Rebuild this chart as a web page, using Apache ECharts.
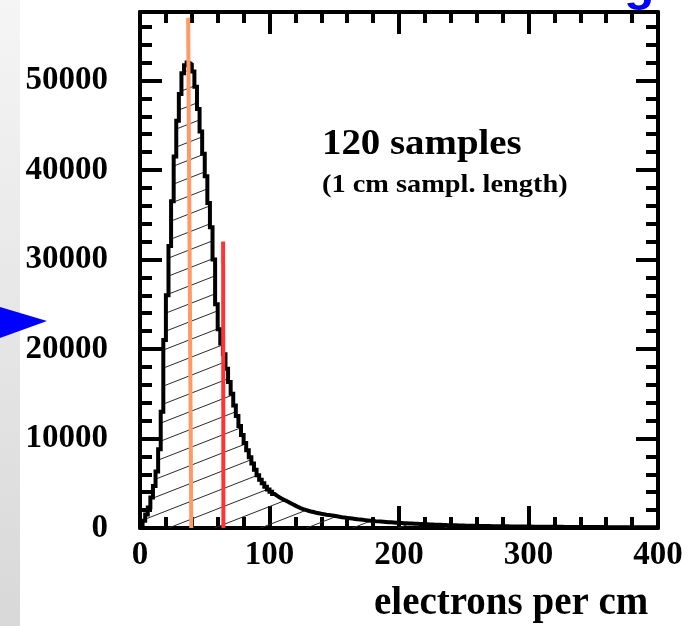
<!DOCTYPE html>
<html>
<head>
<meta charset="utf-8">
<script src="https://cdn.jsdelivr.net/npm/echarts@6/dist/echarts.min.js"></script>
<style>
  html, body { margin: 0; padding: 0; background: #ffffff; }
  #chart { width: 691px; height: 626px; }
</style>
</head>
<body>
<div id="chart"></div>
<script>
// Histogram of electrons per cm: 200 bins of width 2 from 0 to 400
const binWidth = 2;
const counts = [
  250, 800, 1500, 2300, 3400, 4700, 6300, 8800, 13000, 21000,
  26000, 31500, 36500, 41500, 45500, 48500, 50800, 51700, 52000, 51800,
  51000, 49300, 46800, 44300, 41800, 39300, 36300, 33600, 30000, 25000,
  22200, 20600, 19400, 17800, 16300, 15000, 13700, 12500, 11400, 10400,
  9500, 8700, 7900, 7200, 6500, 5900, 5400, 5000, 4600, 4300,
  4050, 3800, 3600, 3400, 3250, 3100, 2950, 2800, 2650, 2500,
  2350, 2230, 2120, 2020, 1930, 1850, 1780, 1710, 1650, 1590,
  1540, 1490, 1450, 1410, 1360, 1310, 1260, 1210, 1170, 1130,
  1090, 1050, 1010, 970, 940, 910, 880, 850, 820, 790,
  760, 740, 715, 690, 670, 650, 630, 610, 590, 570,
  555, 540, 525, 510, 495, 480, 465, 450, 435, 420,
  408, 396, 384, 372, 360, 350, 340, 330, 320, 311,
  302, 294, 286, 279, 272, 265, 258, 252, 246, 240,
  234, 228, 223, 218, 213, 208, 203, 199, 195, 191,
  187, 183, 180, 176, 173, 170, 167, 164, 161, 158,
  155, 152, 150, 147, 145, 142, 140, 138, 135, 133,
  131, 129, 127, 125, 123, 121, 119, 117, 115, 114,
  112, 110, 109, 107, 105, 104, 102, 101, 99, 98,
  97, 95, 94, 93, 91, 90, 89, 88, 87, 86,
  85, 84, 83, 82, 81, 80, 79, 78, 77, 76
];

// Axis ranges and tick spacing
const xRange = [0, 400];
const xMajorStep = 100;
const yRange = [0, 57650];
const yMajorStep = 10000;
const yMinorStep = 2000;

// Marker lines: most probable value and mean
const peakMarker = [[37.2, 57000], [39.6, 0]];
const meanMarker = [[64.2, 32000], [64.4, 0]];

// Text
const titleText = '120 samples';
const subtitleText = '(1 cm sampl. length)';
const xTitleText = 'electrons per cm';

// Step outline: one point per bin's left edge, closed at the right end
const histPoints = counts.map((c, i) => [i * binWidth, c]);
histPoints.push([counts.length * binWidth, counts[counts.length - 1]]);

// Diagonal hatch tile for the histogram fill
const hatch = document.createElement('canvas');
hatch.width = 46;
hatch.height = 18;
(function () {
  const ctx = hatch.getContext('2d');
  ctx.strokeStyle = '#2a2a2a';
  ctx.lineWidth = 1;
  for (let k = -1; k <= 1; k++) {
    ctx.beginPath();
    ctx.moveTo(0, 18 + 18 * k);
    ctx.lineTo(46, 0 + 18 * k);
    ctx.stroke();
  }
})();

const serif = '"Liberation Serif", "Times New Roman", serif';
const black = '#000000';

function xAxisDef(pos, withLabels) {
  return {
    type: 'value', position: pos, min: xRange[0], max: xRange[1], interval: xMajorStep,
    axisLine: { show: true, onZero: false, lineStyle: { color: black, width: 4 } },
    axisTick: { show: true, inside: true, length: 22, lineStyle: { color: black, width: 4 } },
    minorTick: { show: true, splitNumber: 5, length: 11, lineStyle: { color: black, width: 4 } },
    axisLabel: {
      show: withLabels, color: black, fontFamily: serif, fontWeight: 'bold', fontSize: 33, margin: 11
    },
    splitLine: { show: false }, minorSplitLine: { show: false }
  };
}

function yAxisDef(pos, step, tickLen, withLine, withLabels) {
  return {
    type: 'value', position: pos, min: yRange[0], max: yRange[1], interval: step,
    axisLine: { show: withLine, onZero: false, lineStyle: { color: black, width: 4 } },
    axisTick: { show: true, inside: true, length: tickLen, lineStyle: { color: black, width: 4 } },
    axisLabel: {
      show: withLabels, showMaxLabel: false, color: black, fontFamily: serif, fontWeight: 'bold',
      fontSize: 33, margin: 32,
      formatter: v => (v % yMajorStep === 0 ? String(v) : '')
    },
    splitLine: { show: false }
  };
}

const chart = echarts.init(document.getElementById('chart'), null, { renderer: 'canvas' });
chart.setOption({
  animation: false,
  backgroundColor: '#ffffff',
  grid: { left: 140, right: 33, top: 12, bottom: 98, outerBoundsMode: 'none' },
  xAxis: [xAxisDef('bottom', true), xAxisDef('top', false)],
  yAxis: [
    yAxisDef('left', yMajorStep, 22, true, true),
    yAxisDef('left', yMinorStep, 12, false, false),
    yAxisDef('right', yMajorStep, 22, true, false),
    yAxisDef('right', yMinorStep, 12, false, false)
  ],
  graphic: [
    {
      type: 'rect', z: -10, shape: { x: 0, y: 0, width: 20, height: 626 },
      style: {
        fill: new echarts.graphic.LinearGradient(0, 0, 0, 1, [
          { offset: 0, color: '#f5f5f5' }, { offset: 1, color: '#d8d8d8' }
        ])
      }
    },
    {
      type: 'polygon', z: 10,
      shape: { points: [[0, 307], [47, 321], [0, 338]] },
      style: { fill: '#0000ff' }
    },
    {
      type: 'text', x: 624, y: -14, z: 10,
      style: { text: 'g', font: 'bold 50px "Liberation Sans", Arial, sans-serif', fill: '#0000ff', verticalAlign: 'middle' }
    },
    {
      type: 'text', x: 322, y: 145, scaleX: 1.11, z: 10,
      style: { text: titleText, font: 'bold 35px ' + serif, fill: black, verticalAlign: 'middle' }
    },
    {
      type: 'text', x: 322, y: 185, scaleX: 1.09, z: 10,
      style: { text: subtitleText, font: 'bold 26px ' + serif, fill: black, verticalAlign: 'middle' }
    },
    {
      type: 'text', x: 374, y: 603.5, z: 10,
      style: { text: xTitleText, font: 'bold 39px ' + serif, fill: black, verticalAlign: 'middle' }
    }
  ],
  series: [
    {
      type: 'line', name: 'counts', xAxisIndex: 0, yAxisIndex: 0,
      data: histPoints, step: 'end', symbol: 'none', silent: true,
      lineStyle: { color: black, width: 4, join: 'miter' },
      areaStyle: { color: { image: hatch, repeat: 'repeat' }, opacity: 1 }
    },
    {
      type: 'line', name: 'most probable', xAxisIndex: 0, yAxisIndex: 0,
      data: peakMarker, symbol: 'none', silent: true,
      lineStyle: { color: '#ff9966', width: 4 }
    },
    {
      type: 'line', name: 'mean', xAxisIndex: 0, yAxisIndex: 0,
      data: meanMarker, symbol: 'none', silent: true,
      lineStyle: { color: '#ff3333', width: 4 }
    }
  ]
});
</script>
</body>
</html>
